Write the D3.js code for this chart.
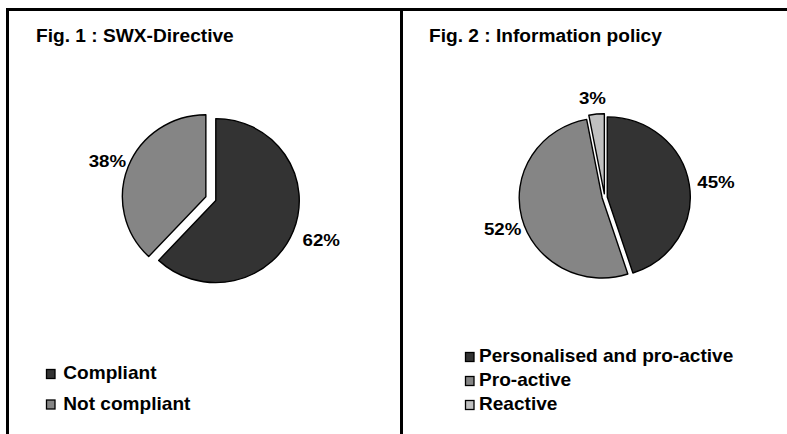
<!DOCTYPE html>
<html>
<head>
<meta charset="utf-8">
<script src="https://cdn.jsdelivr.net/npm/d3@7"></script>
<style>
  html, body { margin: 0; padding: 0; background: #fff; }
  svg { display: block; }
  text { font-family: "Liberation Sans", Arial, sans-serif; font-weight: bold; fill: #000; }
</style>
</head>
<body>
<svg id="chart" width="787" height="434"></svg>
<script>
// ---- data ----
const fig1Title = "Fig. 1 : SWX-Directive";
const fig1Categories = ["Compliant", "Not compliant"];
const fig1Values = [62, 38];

const fig2Title = "Fig. 2 : Information policy";
const fig2Categories = ["Personalised and pro-active", "Pro-active", "Reactive"];
const fig2Values = [45, 52, 3];

// ---- styling / layout ----
const sliceColors = ["#333333", "#858585", "#c0c0c0"];

const panels = [
  {
    title: fig1Title, categories: fig1Categories, values: fig1Values,
    titleX: 36, titleY: 42,
    cx: 215.8, cy: 200.6, r: 82, sx: 1.018,
    explode: [0, 10.5], labelPad: 10,
    labelNudge: [[1, 3], [6, 0]],
    legendX: 46.5, legendY: 379, legendStep: 30.5, legendTextX: 63.3
  },
  {
    title: fig2Title, categories: fig2Categories, values: fig2Values,
    titleX: 429, titleY: 42,
    cx: 604.7, cy: 197.3, r: 80, sx: 1.0375,
    explode: [2.5, 2.5, 3.5], labelPad: 9,
    labelNudge: [[-1, 0], [8, 7.5], [-2, -1]],
    legendX: 465.5, legendY: 362, legendStep: 24, legendTextX: 479
  }
];

const svg = d3.select("#chart");

// panel frame: top rule, left rule and the divider between the two figures
const frame = svg.append("g").attr("stroke", "#000").attr("stroke-width", 3);
frame.append("line").attr("x1", 6).attr("x2", 787).attr("y1", 9.5).attr("y2", 9.5);
frame.append("line").attr("x1", 7.5).attr("x2", 7.5).attr("y1", 8).attr("y2", 434);
frame.append("line").attr("x1", 401.5).attr("x2", 401.5).attr("y1", 8).attr("y2", 434);

const pie = d3.pie().sort(null).value(d => d).startAngle(0).endAngle(2 * Math.PI);

// helper: horizontally widened bold text
function stretchedText(parent, str, x, y, size, sx, anchor) {
  return parent.append("text")
    .attr("transform", `translate(${x},${y}) scale(${sx},1)`)
    .attr("text-anchor", anchor || "start")
    .attr("font-size", size)
    .text(str);
}

const LABEL_SIZE = 17, LABEL_SX = 1.1;

panels.forEach(p => {
  const g = svg.append("g");

  // title
  stretchedText(g, p.title, p.titleX, p.titleY, 18.5, 1.035);

  const arcs = pie(p.values);
  const arc = d3.arc().innerRadius(0).outerRadius(p.r);

  arcs.forEach((a, i) => {
    const mid = (a.startAngle + a.endAngle) / 2;
    const dx = Math.sin(mid), dy = -Math.cos(mid);
    const e = p.explode[i];
    const scx = p.cx + e * dx * p.sx;
    const scy = p.cy + e * dy;

    g.append("path")
      .attr("transform", `translate(${scx},${scy}) scale(${p.sx},1)`)
      .attr("d", arc(a))
      .attr("fill", sliceColors[i])
      .attr("stroke", "#000")
      .attr("stroke-width", 1.4)
      .attr("stroke-linejoin", "round")
      .attr("vector-effect", "non-scaling-stroke");

    // percentage label outside the slice
    const D = p.r + p.labelPad;
    const ax = scx + D * dx * p.sx;
    const ay = scy + D * dy;
    const label = p.values[i] + "%";
    const t = stretchedText(g, label, 0, 0, LABEL_SIZE, LABEL_SX, "middle");
    const w = t.node().getComputedTextLength() * LABEL_SX;
    const h = LABEL_SIZE * 0.72;
    const [nx, ny] = p.labelNudge[i];
    const bx = ax + dx * w / 2 + nx;
    const by = ay + dy * h / 2 + ny;
    t.attr("transform", `translate(${bx},${by + h / 2}) scale(${LABEL_SX},1)`);
  });

  // legend
  p.categories.forEach((c, i) => {
    const y = p.legendY + i * p.legendStep;
    g.append("rect")
      .attr("x", p.legendX).attr("y", y - 9.5)
      .attr("width", 8.5).attr("height", 9)
      .attr("fill", sliceColors[i])
      .attr("stroke", "#000").attr("stroke-width", 1.3);
    stretchedText(g, c, p.legendTextX, y, 18, 1.06);
  });
});
</script>
</body>
</html>
